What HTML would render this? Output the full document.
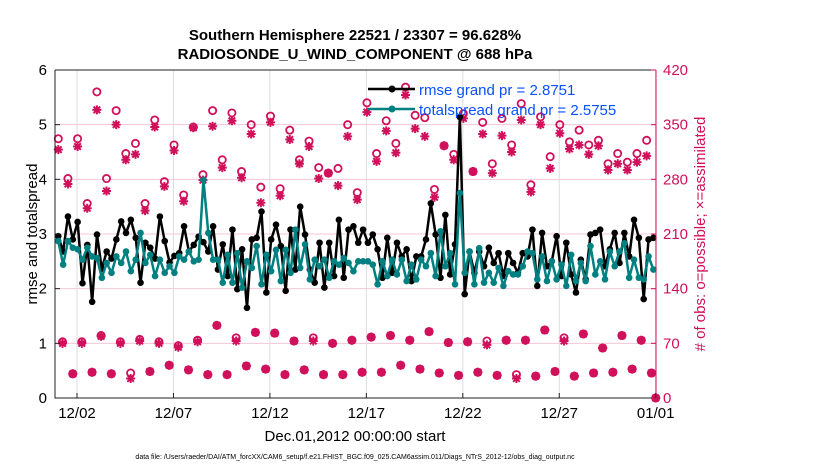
<!DOCTYPE html>
<html><head><meta charset="utf-8"><style>
body{margin:0;background:#fff;font-family:"Liberation Sans",sans-serif}
svg text{font-family:"Liberation Sans",sans-serif}
</style></head><body>
<svg id="chart" width="830" height="470" viewBox="0 0 830 470" xmlns="http://www.w3.org/2000/svg">
<rect width="830" height="470" fill="#fff"/>
<g id="grid"></g>
<g id="obs"></g>
<g id="lines"></g>
<g id="axes"></g>
<text x="355" y="40" text-anchor="middle" font-size="15" font-weight="bold">Southern Hemisphere 22521 / 23307 = 96.628%</text>
<text x="355" y="59" text-anchor="middle" font-size="15" font-weight="bold">RADIOSONDE_U_WIND_COMPONENT @ 688 hPa</text>
<text x="355" y="441" text-anchor="middle" font-size="15">Dec.01,2012 00:00:00 start</text>
<text x="37" y="234" text-anchor="middle" font-size="15" transform="rotate(-90 37 234)">rmse and totalspread</text>
<text x="705" y="234" text-anchor="middle" font-size="15" fill="#d0105a" transform="rotate(-90 705 234)"># of obs: o=possible; ×=assimilated</text>
<text x="355" y="459" text-anchor="middle" font-size="7">data file: /Users/raeder/DAI/ATM_forcXX/CAM6_setup/f.e21.FHIST_BGC.f09_025.CAM6assim.011/Diags_NTrS_2012-12/obs_diag_output.nc</text>
<g>
<line x1="368" y1="89" x2="415" y2="89" stroke="#000" stroke-width="2.5"/>
<circle cx="392" cy="89" r="3.5" fill="#000"/>
<text x="419" y="95" font-size="15" fill="#0a50ff">rmse grand pr = 2.8751</text>
<line x1="368" y1="109" x2="415" y2="109" stroke="#008080" stroke-width="2.5"/>
<circle cx="392" cy="109" r="3.5" fill="#008080"/>
<text x="419" y="115" font-size="15" fill="#0a50ff">totalspread grand pr = 2.5755</text>
</g>
</svg>
<script>
const rmse=[2.96,2.68,3.32,2.90,3.22,2.10,2.80,1.76,2.99,2.36,2.68,2.55,2.90,3.23,3.02,3.26,2.93,2.11,2.84,2.75,2.55,3.32,2.87,2.48,2.60,2.65,3.14,2.68,2.80,2.95,2.85,
2.68,3.14,2.35,2.81,2.23,3.08,1.99,2.72,1.65,2.90,2.93,3.41,1.93,2.90,3.17,2.78,1.96,3.08,2.35,3.50,2.99,2.35,2.11,2.84,2.02,2.84,2.23,3.26,2.20,3.08,3.14,2.84,
3.08,2.84,2.99,2.72,2.20,2.93,2.29,2.84,2.59,2.72,2.14,2.59,2.59,2.90,3.56,2.99,2.20,3.35,2.26,2.81,5.14,1.90,2.68,2.29,2.68,2.41,2.75,2.47,2.65,2.23,2.65,2.47,
2.29,2.65,2.59,3.08,2.05,3.02,2.41,2.50,2.96,2.23,2.84,2.26,1.93,2.53,2.17,2.99,3.02,3.08,2.41,2.72,3.02,2.47,3.02,2.59,3.26,2.93,1.81,2.90,2.93];
const spread=[2.87,2.44,2.87,2.75,2.72,2.53,2.75,2.59,2.56,2.20,2.47,2.29,2.59,2.47,2.68,2.32,2.53,3.02,2.47,2.62,2.23,2.53,2.29,2.41,2.29,2.59,2.53,2.68,2.50,2.53,3.99,
3.02,2.53,2.53,2.11,2.62,2.11,2.65,2.02,2.50,2.38,2.78,2.08,2.62,2.32,2.71,2.14,2.71,2.29,3.08,2.38,2.81,2.17,2.53,2.41,2.53,2.20,2.50,2.44,2.56,2.47,2.32,2.50,
2.50,2.50,2.44,2.08,2.50,2.23,2.53,2.26,2.53,2.14,2.44,2.17,2.53,2.41,2.65,2.23,3.05,2.41,2.65,2.08,3.75,2.29,2.68,2.08,2.74,2.11,2.29,2.11,2.38,2.05,2.32,2.26,
2.26,2.41,2.68,2.65,2.17,2.59,2.14,2.50,2.17,2.44,2.05,2.62,2.14,2.47,2.14,2.78,2.26,2.50,2.17,2.68,2.41,2.68,2.83,2.20,2.53,2.20,2.17,2.59,2.35];
const highPossible=[332,281,332,249,392,281,368,313,326,249,356,277,324,260,347,286,
368,305,365,290,350,270,361,268,343,305,329,295,288,294,350,263,
378,313,355,326,398,362,359,267,323,312,364,290,353,300,358,
324,377,273,360,309,350,328,343,324,330,300,313,302,313,330];
const highAssim=[318,274,322,243,369,265,350,305,312,240,347,271,317,252,346,279,
348,295,355,282,338,250,353,259,331,300,322,281,288,272,335,254,
366,303,342,314,388,345,335,257,323,305,358,290,338,288,336,
315,356,264,350,294,339,319,324,312,323,292,300,292,302,310];
const midPossible=[72,72,80,72,75,72,67,74,93,77,84,83,73,77,70,74,78,80,74,85,71,72,73,74,74,87,77,82,64,80,74];
const midAssim=[70,70,79,70,73,70,65,72,93,73,84,83,73,73,70,74,78,80,74,85,71,72,68,74,74,87,73,82,64,80,74];
const lowPossible=[31,33,31,32,34,42,36,30,30,41,37,30,36,30,30,33,33,42,37,32,29,33,29,30,28,34,28,32,33,37,32];
const lowAssim=[31,33,31,25,34,42,36,30,30,41,37,30,36,30,30,33,33,42,37,32,29,33,29,25,28,34,28,32,33,37,32];
const leftTicks=[0,1,2,3,4,5,6];
const rightTicks=[0,70,140,210,280,350,420];
const dateTicks=[2,7,12,17,22,27,32];
const dateLabels=["12/02","12/07","12/12","12/17","12/22","12/27","01/01"];

const NS="http://www.w3.org/2000/svg";
const L=55,R=656,T=70,B=398;
const xd=d=>77+(d-2)*19.29;
const yl=v=>B-(v/6)*(B-T);
const yr=v=>B-(v/420)*(B-T);
function mk(tag,attrs,parent){const e=document.createElementNS(NS,tag);for(const k in attrs)e.setAttribute(k,attrs[k]);document.getElementById(parent).appendChild(e);return e;}
const C="#d0105a";
dateTicks.forEach((d,i)=>{
 const g=mk('line',{x1:xd(d),x2:xd(d),y1:T,y2:B,stroke:'#ddd','stroke-width':1},'grid');
 
 
});
rightTicks.forEach(v=>{
 const g=mk('line',{x1:L,x2:R,y1:yr(v),y2:yr(v),stroke:'#f5c6d8','stroke-width':1},'grid');
 
 
});
function star(x,y){
 const s=mk('path',{d:`M${x-4.5} ${y}H${x+4.5}M${x} ${y-4.5}V${y+4.5}M${x-3.3} ${y-3.3}L${x+3.3} ${y+3.3}M${x-3.3} ${y+3.3}L${x+3.3} ${y-3.3}`,stroke:C,'stroke-width':2,fill:'none'},'obs');
 
 
}
function ring(x,y){
 const c=mk('circle',{cx:x,cy:y,r:3.6,stroke:C,'stroke-width':1.8,fill:'none'},'obs');
 
 
}
highPossible.forEach((v,k)=>ring(xd(1.03+k*0.5),yr(v)));
highAssim.forEach((v,k)=>star(xd(1.03+k*0.5),yr(v)));
midPossible.forEach((v,k)=>ring(xd(1.25+k),yr(v)));
midAssim.forEach((v,k)=>star(xd(1.25+k),yr(v)));
lowPossible.forEach((v,k)=>ring(xd(1.78+k),yr(v)));
lowAssim.forEach((v,k)=>star(xd(1.78+k),yr(v)));
ring(xd(32),yr(0));star(xd(32),yr(0));
function series(vals,color,name){
 const step=30.85/(vals.length-1);
 const pts=vals.map((v,i)=>[xd(1.03+i*step),yl(v)]);
 const p=mk('polyline',{points:pts.map(p=>p.join(',')).join(' '),fill:'none',stroke:color,'stroke-width':2.5,'stroke-linejoin':'round'},'lines');
 
 
 pts.forEach(q=>{
  const c=mk('circle',{cx:q[0],cy:q[1],r:3.3,fill:color},'lines');
  
  
 });
}
series(rmse,'#000','rmse');
series(spread,'#008080','totalspread');
const ax=mk('path',{d:`M${L} ${T}V${B}H${R}M${L} ${T}H${R}`,stroke:'#222','stroke-width':1,fill:'none'},'axes');


const ra=mk('line',{x1:R,x2:R,y1:T,y2:B,stroke:C,'stroke-width':1},'axes');


leftTicks.forEach(v=>{
 mk('line',{x1:L,x2:L+5,y1:yl(v),y2:yl(v),stroke:'#222'},'axes');
 const t=mk('text',{x:L-8,y:yl(v)+5,'text-anchor':'end','font-size':15},'axes');
 t.textContent=v;
 
 
});
rightTicks.forEach(v=>{
 mk('line',{x1:R-5,x2:R,y1:yr(v),y2:yr(v),stroke:C},'axes');
 const t=mk('text',{x:R+7,y:yr(v)+5,'font-size':15,fill:C},'axes');
 t.textContent=v;
 
 
});
dateTicks.forEach((d,i)=>{
 mk('line',{x1:xd(d),x2:xd(d),y1:B,y2:B-5,stroke:'#222'},'axes');
 const t=mk('text',{x:xd(d),y:B+20,'text-anchor':'middle','font-size':15},'axes');
 t.textContent=dateLabels[i];
 
 
});
</script>
</body></html>
